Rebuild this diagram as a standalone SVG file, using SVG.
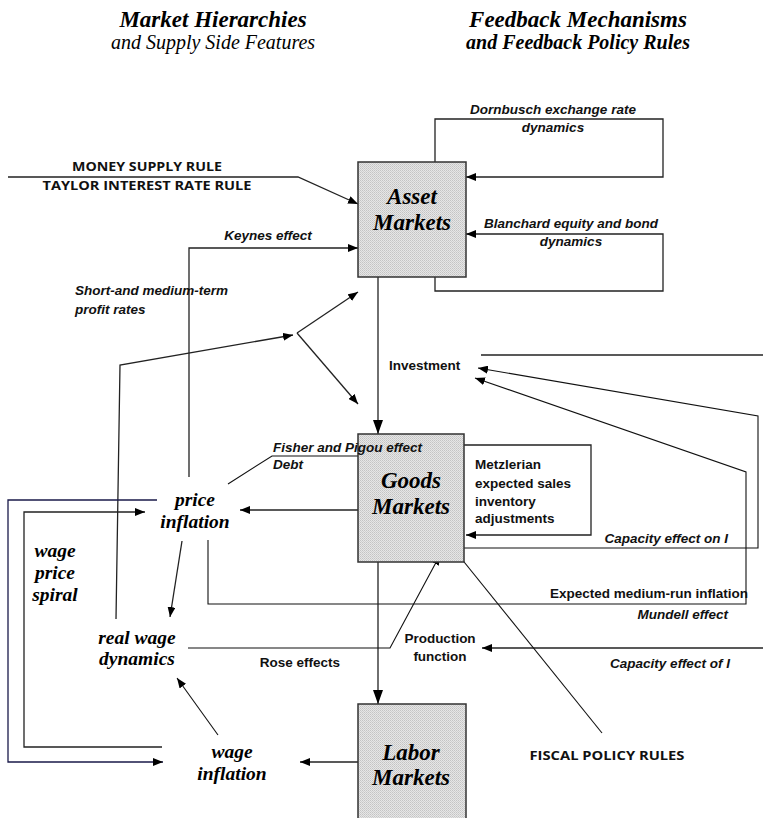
<svg xmlns="http://www.w3.org/2000/svg" width="763" height="818" viewBox="0 0 763 818">
<defs>
<pattern id="dots" width="2" height="2" patternUnits="userSpaceOnUse">
<rect width="2" height="2" fill="#e6e6e6"/>
<rect width="1" height="1" fill="#c4c4c4"/>
<rect x="1" y="1" width="1" height="1" fill="#cfcfcf"/>
</pattern>
<marker id="a" viewBox="0 0 10 8" refX="10" refY="4" markerWidth="10" markerHeight="8" markerUnits="userSpaceOnUse" orient="auto">
<path d="M0,0 L10,4 L0,8 z" fill="#000"/>
</marker>
<marker id="A" viewBox="0 0 14 10" refX="14" refY="5" markerWidth="14" markerHeight="10" markerUnits="userSpaceOnUse" orient="auto">
<path d="M0,0 L14,5 L0,10 z" fill="#000"/>
</marker>
</defs>
<style>
.box{fill:url(#dots);stroke:#333;stroke-width:1.5}
.ln{fill:none;stroke:#222;stroke-width:1.3}
.thin{fill:none;stroke:#111;stroke-width:1.1}
.arr{marker-end:url(#a)}
.big{marker-end:url(#A)}
.node{font-family:"Liberation Serif",serif;font-weight:bold;font-style:italic;font-size:23px;text-anchor:middle;fill:#000}
.var{font-family:"Liberation Serif",serif;font-weight:bold;font-style:italic;font-size:19.5px;text-anchor:middle;fill:#000}
.t1{font-family:"Liberation Serif",serif;font-weight:bold;font-style:italic;font-size:23px;text-anchor:middle;fill:#000}
.t2{font-family:"Liberation Serif",serif;font-style:italic;font-size:20px;text-anchor:middle;fill:#000}
.t2b{font-family:"Liberation Serif",serif;font-weight:bold;font-style:italic;font-size:20px;text-anchor:middle;fill:#000}
.lbi{font-family:"Liberation Sans",Arial,sans-serif;font-weight:bold;font-style:italic;font-size:13.5px;fill:#111}
.lb{font-family:"Liberation Sans",Arial,sans-serif;font-weight:bold;font-size:13.5px;fill:#111}
.rule{font-family:"Open Sans","Liberation Sans",sans-serif;font-weight:bold;font-size:13px;text-anchor:middle;fill:#111}
.c{text-anchor:middle}
.e{text-anchor:end}
</style>

<g id="titles">
<text class="t1" x="213" y="27">Market Hierarchies</text>
<text class="t2" x="213" y="49">and Supply Side Features</text>
<text class="t1" x="578" y="27">Feedback Mechanisms</text>
<text class="t2b" x="578" y="49">and Feedback Policy  Rules</text>
</g>

<g id="connectors">
<polyline class="ln arr" points="8,177 298,177 358,204"/>
<polyline class="ln arr" points="189,477 189,248 358,248"/>
<polyline class="ln arr" points="435,162 435,119 663,119 663,177 466,177"/>
<polyline class="ln arr" points="435,277 435,291 663,291 663,234 466,234"/>
<polyline class="ln arr" points="116,619 120,365 293,335"/>
<line class="ln arr" x1="297" y1="333" x2="358" y2="292"/>
<line class="ln arr" x1="297" y1="333" x2="358" y2="404"/>
<line class="ln big" x1="378" y1="277" x2="378" y2="434"/>
<line class="ln" x1="481" y1="355" x2="763" y2="355"/>
<polyline class="thin arr" points="464,548 758,548 758,416 478,368"/>
<polyline class="thin arr" points="208,540 208,604 746,604 746,472 475,378"/>
<polyline class="ln arr" points="464,445 591,445 591,535 466,535"/>
<polyline class="thin arr" points="228,484 272,456 456,456 456,528"/>
<line class="ln arr" x1="358" y1="510" x2="240" y2="510"/>
<line class="ln big" x1="378" y1="562" x2="378" y2="704"/>
<line class="ln arr" x1="182" y1="541" x2="170" y2="617"/>
<polyline class="thin arr" points="188,648 390,648 440,555"/>
<line class="ln arr" x1="763" y1="648" x2="482" y2="648"/>
<line class="thin arr" x1="602" y1="733" x2="452" y2="547"/>
<line class="ln arr" x1="358" y1="762" x2="300" y2="762"/>
<line class="thin arr" x1="218" y1="735" x2="177" y2="678"/>
<polyline class="ln arr" points="157,500 8,500 8,762 163,762" style="stroke:#1a1a4a"/>
<polyline class="ln arr" points="162,747 24,747 24,512 145,512"/>
</g>

<g id="asset-markets">
<rect class="box" x="358" y="162" width="108" height="115"/>
<text class="node" x="412" y="204">Asset</text>
<text class="node" x="412" y="230">Markets</text>
</g>
<g id="goods-markets">
<rect class="box" x="358" y="434" width="106" height="128"/>
<text class="node" x="411" y="488">Goods</text>
<text class="node" x="411" y="514">Markets</text>
</g>
<g id="labor-markets">
<rect class="box" x="358" y="704" width="108" height="120"/>
<text class="node" x="411" y="760">Labor</text>
<text class="node" x="411" y="785">Markets</text>
</g>
<g id="price-inflation">
<text class="var" x="195" y="506">price</text>
<text class="var" x="195" y="528">inflation</text>
</g>
<g id="real-wage-dynamics">
<text class="var" x="137" y="644">real wage</text>
<text class="var" x="137" y="665">dynamics</text>
</g>
<g id="wage-inflation">
<text class="var" x="232" y="758">wage</text>
<text class="var" x="232" y="780">inflation</text>
</g>
<g id="wage-price-spiral">
<text class="var" x="55" y="557">wage</text>
<text class="var" x="55" y="579">price</text>
<text class="var" x="55" y="601">spiral</text>
</g>

<g id="labels">
<text class="rule" x="147" y="171" textLength="150" lengthAdjust="spacingAndGlyphs">MONEY SUPPLY RULE</text>
<text class="rule" x="147" y="190" textLength="209" lengthAdjust="spacingAndGlyphs">TAYLOR INTEREST RATE RULE</text>
<text class="lbi c" x="268" y="240">Keynes effect</text>
<text class="lbi" x="75" y="295">Short-and medium-term</text>
<text class="lbi" x="75" y="314">profit rates</text>
<text class="lbi c" x="553" y="114">Dornbusch exchange rate</text>
<text class="lbi c" x="553" y="132">dynamics</text>
<text class="lbi c" x="571" y="228">Blanchard equity and bond</text>
<text class="lbi c" x="571" y="246">dynamics</text>
<text class="lb" x="389" y="370">Investment</text>
<text class="lbi" x="273" y="452">Fisher and Pigou effect</text>
<text class="lbi" x="273" y="469">Debt</text>
<text class="lb" x="475" y="469">Metzlerian</text>
<text class="lb" x="475" y="488">expected sales</text>
<text class="lb" x="475" y="506">inventory</text>
<text class="lb" x="475" y="523">adjustments</text>
<text class="lbi e" x="728" y="543">Capacity effect on I</text>
<text class="lb e" x="748" y="598">Expected medium-run inflation</text>
<text class="lbi e" x="728" y="619">Mundell effect</text>
<text class="lb c" x="440" y="643">Production</text>
<text class="lb c" x="440" y="661">function</text>
<text class="lb c" x="300" y="667">Rose effects</text>
<text class="lbi c" x="670" y="668">Capacity effect of I</text>
<text class="rule" x="607" y="760" textLength="155" lengthAdjust="spacingAndGlyphs">FISCAL POLICY RULES</text>
</g>
</svg>
